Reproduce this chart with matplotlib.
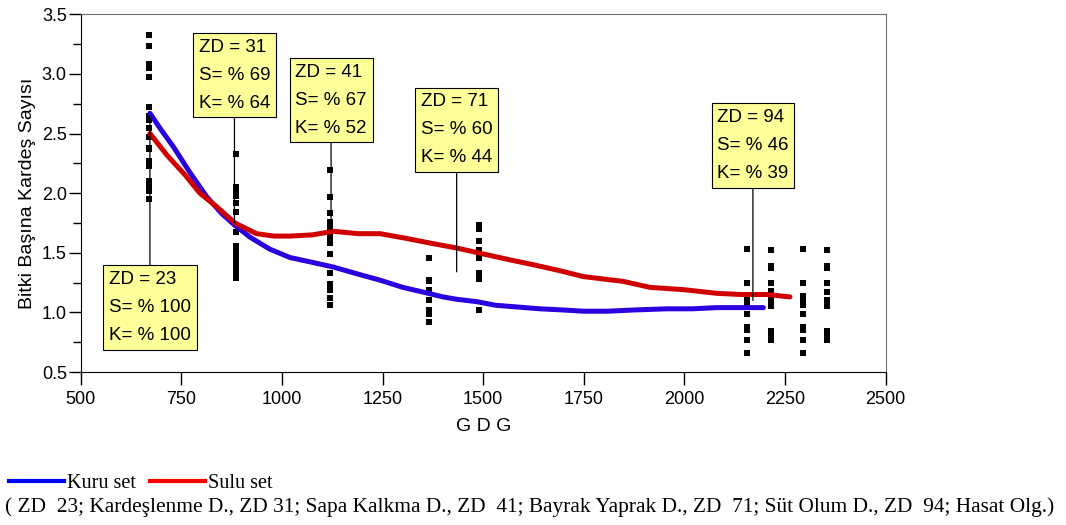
import matplotlib.pyplot as plt
from matplotlib.lines import Line2D

# GDG columns of the scatter (tiller counts per plant)
gdg_cols = [670, 885, 1120, 1365, 1490, 2155, 2215, 2295, 2355]
tiller_cols = [
    [3.33, 3.23, 3.08, 3.05, 2.97, 2.72, 2.65, 2.61, 2.55, 2.47, 2.38, 2.37, 2.27, 2.23, 2.10, 2.05, 2.02, 1.95],
    [2.33, 2.05, 2.02, 1.98, 1.92, 1.84, 1.67, 1.56, 1.52, 1.48, 1.45, 1.40, 1.35, 1.31, 1.29],
    [2.19, 1.97, 1.83, 1.76, 1.73, 1.70, 1.63, 1.58, 1.49, 1.33, 1.24, 1.21, 1.19, 1.12, 1.06],
    [1.46, 1.27, 1.26, 1.19, 1.10, 1.02, 0.99, 0.92],
    [1.73, 1.70, 1.60, 1.52, 1.46, 1.33, 1.28, 1.02],
    [1.53, 1.25, 1.10, 1.07, 0.99, 0.88, 0.85, 0.77, 0.66],
    [1.52, 1.39, 1.37, 1.25, 1.18, 1.14, 1.09, 1.05, 0.84, 0.81, 0.77],
    [1.53, 1.25, 1.14, 1.10, 1.06, 0.99, 0.88, 0.85, 0.77, 0.66],
    [1.52, 1.39, 1.37, 1.25, 1.17, 1.10, 1.05, 0.84, 0.81, 0.77],
]

# smoothed curves
kuru_x = [672, 700, 730, 770, 813, 850, 883, 921, 970, 1020, 1075, 1128, 1190, 1244, 1300, 1351, 1400, 1434, 1484, 1530, 1567, 1641, 1700, 1749, 1810, 1873, 1956, 2020, 2080, 2140, 2196]
kuru_y = [2.67, 2.53, 2.39, 2.18, 1.97, 1.83, 1.73, 1.63, 1.53, 1.46, 1.42, 1.38, 1.32, 1.27, 1.21, 1.17, 1.13, 1.11, 1.09, 1.06, 1.05, 1.03, 1.02, 1.01, 1.01, 1.02, 1.03, 1.03, 1.04, 1.04, 1.04]
sulu_x = [672, 714, 760, 796, 840, 883, 937, 980, 1020, 1075, 1128, 1190, 1244, 1310, 1370, 1434, 1500, 1567, 1624, 1690, 1749, 1848, 1914, 2000, 2080, 2140, 2204, 2262]
sulu_y = [2.50, 2.32, 2.15, 2.00, 1.88, 1.75, 1.66, 1.64, 1.64, 1.65, 1.68, 1.66, 1.66, 1.62, 1.58, 1.54, 1.49, 1.44, 1.40, 1.35, 1.30, 1.26, 1.21, 1.19, 1.16, 1.15, 1.15, 1.13]

# growth stage annotations
zd = [23, 31, 41, 71, 94]
s_pct = [100, 69, 67, 60, 46]
k_pct = [100, 64, 52, 44, 39]
ann_x = [672, 882, 1122, 1434, 2170]
ann_y = [2.65, 1.75, 1.69, 1.34, 1.10]
box_y = [1.04, 2.99, 2.78, 2.53, 2.40]

plt.rcParams['font.family'] = ['Liberation Sans', 'DejaVu Sans']

fig = plt.figure(figsize=(10.66, 5.25), dpi=100)
ax = fig.add_axes([0.0757, 0.2914, 0.7552, 0.6814])

for gx, col in zip(gdg_cols, tiller_cols):
    ax.plot([gx] * len(col), col, 's', color='black', ms=3.8, mew=0, zorder=3)

ax.plot(kuru_x, kuru_y, color='#2A00E0', lw=3.6, solid_capstyle='round', zorder=4)
ax.plot(sulu_x, sulu_y, color='#D00000', lw=3.6, solid_capstyle='round', zorder=4)

for i in range(len(zd)):
    txt = f'ZD = {zd[i]}\nS= % {s_pct[i]}\nK= % {k_pct[i]}'
    ax.annotate(txt, xy=(ann_x[i], ann_y[i]), xytext=(ann_x[i], box_y[i]),
                ha='center', va='center', fontsize=13.5, linespacing=1.85,
                multialignment='left',
                bbox=dict(boxstyle='square,pad=0.3', fc='#FFFF99', ec='black', lw=0.8),
                arrowprops=dict(arrowstyle='-', color='black', lw=0.9, shrinkA=0, shrinkB=0),
                zorder=5)

ax.set_xlim(500, 2500)
ax.set_ylim(0.5, 3.5)
ax.set_xticks(range(500, 2501, 250))
ax.set_yticks([0.5, 1.0, 1.5, 2.0, 2.5, 3.0, 3.5])
ax.set_yticks([0.75, 1.25, 1.75, 2.25, 2.75, 3.25], minor=True)
ax.set_yticklabels(['0.5', '1.0', '1.5', '2.0', '2.5', '3.0', '3.5'])
ax.tick_params(which='major', direction='out', length=9, width=1, labelsize=13, pad=1)
ax.tick_params(axis='x', which='major', pad=5)
ax.tick_params(which='minor', direction='out', length=6, width=1)
ax.spines['top'].set_color('#707070')
ax.spines['right'].set_color('#707070')
ax.set_xlabel('G D G', fontsize=14, labelpad=7)
ax.set_ylabel('Bitki Başına Kardeş Sayısı', fontsize=14, labelpad=4)

handles = [Line2D([], [], color='#0000FF', lw=3),
           Line2D([], [], color='#FF0000', lw=3)]
fig.legend(handles, ['Kuru set', 'Sulu set'], loc='center left',
           bbox_to_anchor=(0.008, 0.080), ncol=2, frameon=False,
           borderpad=0, borderaxespad=0,
           prop={'family': 'Liberation Serif', 'size': 14.5},
           handlelength=2.75, handletextpad=0.15, columnspacing=0.7)

fig.text(0.005, 0.034,
         '( ZD  23; Kardeşlenme D., ZD 31; Sapa Kalkma D., ZD  41; Bayrak Yaprak D., '
         'ZD  71; Süt Olum D., ZD  94; Hasat Olg.)',
         family='Liberation Serif', fontsize=15.4, va='center', ha='left')

fig.savefig('out.png', dpi=100)
